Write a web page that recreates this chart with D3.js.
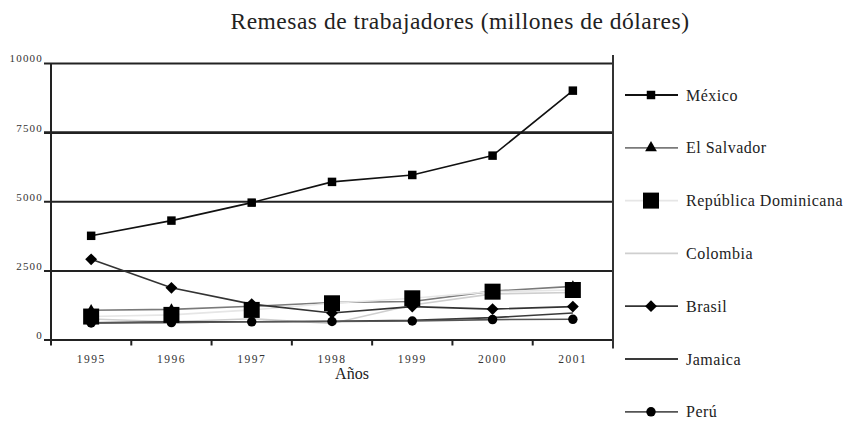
<!doctype html>
<html lang=es>

<head>
  <meta charset=utf-8>
  <title>Remesas de trabajadores</title>
  <style>
    body { margin: 0; background: #fff; }
    text { font-family: "Liberation Serif", serif; fill: #222; }
  </style>
</head>

<body>
  <svg></svg>
  <script src="https://d3js.org/d3.v7.min.js"></script>
  <script>
    var years = ["1995", "1996", "1997", "1998", "1999", "2000", "2001"];
    var yTicks = [0, 2500, 5000, 7500, 10000];

    var mexico = [3750, 4300, 4950, 5700, 5950, 6650, 9000];
    var elSalvador = [1060, 1090, 1200, 1340, 1375, 1750, 1920];
    var repDominicana = [830, 890, 1070, 1310, 1490, 1730, 1790];
    var colombia = [740, 640, 750, 580, 1250, 1650, 1700];
    var brasil = [2900, 1870, 1280, 960, 1190, 1100, 1190];
    var jamaica = [600, 640, 640, 660, 690, 790, 960];
    var peru = [600, 610, 640, 650, 670, 720, 730];

    var width = 853;
    var height = 422;

    var series = [
      { name: "México", values: mexico, stroke: "#111", sw: 1.6, symbol: d3.symbolSquare, size: 72, rot: 0 },
      { name: "El Salvador", values: elSalvador, stroke: "#7a7a7a", sw: 1.6, symbol: d3.symbolTriangle, size: 48, rot: 0 },
      { name: "República Dominicana", values: repDominicana, stroke: "#e6e6e6", sw: 1.6, symbol: d3.symbolSquare, size: 256, rot: 0 },
      { name: "Colombia", values: colombia, stroke: "#cfcfcf", sw: 1.6, symbol: null },
      { name: "Brasil", values: brasil, stroke: "#333", sw: 1.6, symbol: d3.symbolSquare, size: 70, rot: 45 },
      { name: "Jamaica", values: jamaica, stroke: "#3a3a3a", sw: 1.6, symbol: null },
      { name: "Perú", values: peru, stroke: "#555", sw: 1.6, symbol: d3.symbolCircle, size: 70, rot: 0 }
    ];

    var svg = d3.select("svg")
      .attr("width", width)
      .attr("height", height);

    var plotLeft = 51, plotRight = 613, plotTop = 63, plotBottom = 339.5;

    var x = d3.scaleBand()
      .domain(years)
      .range([plotLeft, plotRight]);

    var y = d3.scaleLinear()
      .domain([0, 10000])
      .range([plotBottom, plotTop]);

    // title
    svg.append("text")
      .attr("x", 460)
      .attr("y", 29)
      .attr("text-anchor", "middle")
      .style("font-size", "23.5px")
      .style("letter-spacing", "0.5px")
      .text("Remesas de trabajadores (millones de dólares)");

    // gridlines + y axis
    var yAxis = svg.append("g")
      .attr("transform", "translate(" + plotLeft + ",0)")
      .call(d3.axisLeft(y).tickValues(yTicks).tickFormat(d3.format("d"))
        .tickSizeInner(-(plotRight - plotLeft)).tickSizeOuter(0).tickPadding(8));
    yAxis.select(".domain").remove();
    yAxis.selectAll(".tick line")
      .attr("x1", -7)
      .attr("stroke", "#222")
      .attr("stroke-width", function (d) { return d === 7500 ? 2.6 : 2; });
    yAxis.selectAll(".tick text")
      .attr("dy", "-0.1em")
      .style("font-family", "Liberation Serif, serif")
      .style("font-size", "11px")
      .style("letter-spacing", "1.2px")
      .style("fill", "#333");

    // left and right frame
    svg.append("line")
      .attr("x1", plotLeft).attr("x2", plotLeft)
      .attr("y1", y(10000)).attr("y2", plotBottom + 6)
      .attr("stroke", "#222").attr("stroke-width", 2);
    svg.append("line")
      .attr("x1", plotRight).attr("x2", plotRight)
      .attr("y1", y(10000) - 8).attr("y2", plotBottom + 9)
      .attr("stroke", "#333").attr("stroke-width", 2);

    // x axis
    var xAxis = svg.append("g")
      .attr("transform", "translate(0," + plotBottom + ")")
      .call(d3.axisBottom(x).tickSize(0).tickPadding(15));
    xAxis.select(".domain").remove();
    xAxis.selectAll(".tick text")
      .style("font-family", "Liberation Serif, serif")
      .style("font-size", "11.5px")
      .style("letter-spacing", "1.5px")
      .style("fill", "#333");
    xAxis.selectAll(".sep")
      .data(years.slice(1))
      .enter().append("line")
      .attr("x1", function (d) { return x(d); })
      .attr("x2", function (d) { return x(d); })
      .attr("y1", 0).attr("y2", 6)
      .attr("stroke", "#222").attr("stroke-width", 2);

    svg.append("text")
      .attr("x", 352)
      .attr("y", 379)
      .attr("text-anchor", "middle")
      .style("font-size", "16px")
      .text("Años");

    // lines
    var line = d3.line()
      .x(function (d, i) { return x(years[i]) + x.bandwidth() / 2; })
      .y(function (d) { return y(d); });

    var plot = svg.append("g");

    series.forEach(function (s) {
      plot.append("path")
        .datum(s.values)
        .attr("fill", "none")
        .attr("stroke", s.stroke)
        .attr("stroke-width", s.sw)
        .attr("d", line);
    });

    series.forEach(function (s) {
      if (!s.symbol) return;
      plot.selectAll(null)
        .data(s.values)
        .enter().append("path")
        .attr("d", d3.symbol().type(s.symbol).size(s.size))
        .attr("fill", "#000")
        .attr("transform", function (d, i) {
          return "translate(" + (x(years[i]) + x.bandwidth() / 2) + "," + y(d) + ") rotate(" + s.rot + ")";
        });
    });

    // legend
    var legend = svg.append("g")
      .attr("transform", "translate(625,95)");

    var item = legend.selectAll(".item")
      .data(series)
      .enter().append("g")
      .attr("transform", function (d, i) { return "translate(0," + (i * 52.8) + ")"; });

    item.append("line")
      .attr("x1", 0).attr("x2", 53)
      .attr("stroke", function (d) { return d.stroke; })
      .attr("stroke-width", 1.8);

    item.filter(function (d) { return d.symbol; })
      .append("path")
      .attr("d", function (d) { return d3.symbol().type(d.symbol).size(d.symbol === d3.symbolTriangle ? 60 : d.size)(); })
      .attr("fill", "#000")
      .attr("transform", function (d) { return "translate(26,0) rotate(" + d.rot + ")"; });

    item.append("text")
      .attr("x", 61)
      .attr("dy", "0.35em")
      .style("font-size", "16px")
      .style("letter-spacing", "0.5px")
      .text(function (d) { return d.name; });
  </script>
</body>

</html>
